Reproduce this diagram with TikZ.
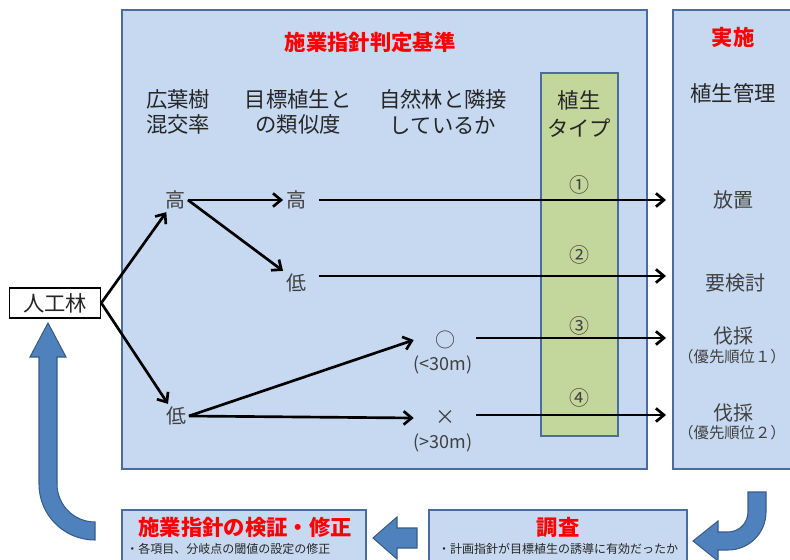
\documentclass[tikz,border=0pt]{standalone}
\usepackage{fontspec}
\setmainfont{Noto Sans CJK JP}
\usetikzlibrary{arrows.meta}
\definecolor{boxfill}{HTML}{C6D9F1}
\definecolor{boxline}{HTML}{4A6D9E}
\definecolor{greenfill}{HTML}{C3D69B}
\definecolor{arrowfill}{HTML}{4F81BD}
\definecolor{arrowline}{HTML}{385D8A}
\definecolor{txt}{HTML}{404040}
\definecolor{titlered}{HTML}{FF0000}
\begin{document}
\begin{tikzpicture}[x=0.75pt,y=-0.75pt,
  panel/.style={draw=boxline,fill=boxfill,line width=1.2pt},
  greenpanel/.style={draw=boxline,fill=greenfill,line width=1.2pt},
  blockarrow/.style={fill=arrowfill,draw=arrowline,line width=0.8pt},
  redtitle/.style={font=\fontsize{16}{19}\selectfont\bfseries,text=titlered,inner sep=0pt},
  header/.style={font=\fontsize{16}{19}\selectfont,text=black!85,align=center,inner sep=0pt},
  val/.style={font=\fontsize{15}{18}\selectfont,text=txt,inner sep=2pt},
  num/.style={font=\fontsize{15}{18}\selectfont,text=txt,inner sep=0pt},
  note/.style={font=\fontsize{13.5}{16}\selectfont,text=txt,inner sep=0pt},
  prio/.style={font=\fontsize{11.5}{14}\selectfont,text=txt,inner sep=0pt},
  small/.style={font=\fontsize{9}{11}\selectfont,text=black!85,inner sep=0pt},
  conn/.style={line width=2pt,-{Straight Barb[length=6pt,width=10pt]}}]
\useasboundingbox (0,0) rectangle (790,560);
\fill[white] (0,0) rectangle (790,560);

% panels
\draw[panel] (122,10) rectangle (647,469);
\draw[panel] (673,10) rectangle (800,469);
\draw[greenpanel] (541,73) rectangle (618,436);
\draw[panel] (122,510) rectangle (366,575);
\draw[panel] (429,510) rectangle (687,575);

% titles
\node[redtitle] (t1) at (370,42) {施業指針判定基準};
\node[redtitle] (t2) at (733,37) {実施};

% headers
\node[header] (hA) at (178,112) {広葉樹\\混交率};
\node[header] (hB) at (298,112) {目標植生と\\の類似度};
\node[header] (hC) at (443,112) {自然林と隣接\\しているか};
\node[header,font=\fontsize{16}{21}\selectfont] (hD) at (579,114) {植生\\タイプ};
\node[header] (hE) at (733,93) {植生管理};

% circled numbers
\node[num] (n1) at (579,185) {①};
\node[num] (n2) at (579,255) {②};
\node[num] (n3) at (579,326) {③};
\node[num] (n4) at (579,398) {④};

% start node
\node[draw=black,fill=white,line width=1.2pt,minimum width=91*0.75pt,minimum height=30*0.75pt,
      font=\fontsize{16}{19}\selectfont,text=black!85,inner sep=0pt] (jinko) at (55,303) {人工林};

% value nodes
\node[val] (h1) at (175,200) {高};
\node[val] (l1) at (176,416) {低};
\node[val] (h2) at (296,200) {高};
\node[val] (l2) at (296,283) {低};
\node[val,minimum width=62*0.75pt] (circ) at (445,340) {○};
\node[note] (circn) at (443,365) {(<30m)};
\node[val,minimum width=62*0.75pt] (cross) at (445,418) {×};
\node[note] (crossn) at (443,443) {(>30m)};

% management nodes
\node[val] (m1) at (733,200) {放置};
\node[val] (m2) at (735,283) {要検討};
\node[val] (m3) at (733,336) {伐採};
\node[prio] (m3n) at (732,357) {（優先順位１）};
\node[val] (m4) at (733,413) {伐採};
\node[prio] (m4n) at (732,433) {（優先順位２）};

\coordinate (tipx) at (666,0);

% connectors
\draw[conn] (jinko.east) -- (h1);
\draw[conn] (jinko.east) -- (l1);
\draw[conn] (h1.east) -- (h2.west);
\draw[conn] (h1.east) -- (l2.north west);
\draw[conn] (l1.east) -- (circ.west);
\draw[conn] (l1.east) -- (cross.west);
\draw[conn,shorten <=10*0.75pt] (h2.east) -- (h2.east -| tipx);
\draw[conn,shorten <=10*0.75pt] (l2.east) ++(0,-7) coordinate (l2s) -- (l2s -| tipx);
\draw[conn] (circ.east) ++(0,-2) coordinate (cs) -- (cs -| tipx);
\draw[conn] (cross.east) ++(0,-3) coordinate (xs) -- (xs -| tipx);

% bottom boxes text
\node[redtitle] (b1) at (245,527) {施業指針の検証・修正};
\node[small,anchor=west] (b1s) at (126,549) {・各項目、分岐点の閾値の設定の修正};
\node[redtitle] (b2) at (558,527) {調査};
\node[small] (b2s) at (558,549) {・計画指針が目標植生の誘導に有効だったか};

% block arrows
\draw[blockarrow] (48,323) -- (66,357) -- (57,357) -- (57,484)
  .. controls (57,505) and (74,522) .. (95,522) -- (95,540)
  .. controls (64,540) and (39,515) .. (39,484) -- (39,357) -- (30,357) -- cycle;
\draw[blockarrow] (748,492) -- (766,492) -- (766,512)
  .. controls (766,533) and (749,550) .. (728,550) -- (718,550) -- (718,561)
  -- (693,541) -- (718,521) -- (718,532) -- (728,532)
  .. controls (739,532) and (748,523) .. (748,512) -- cycle;
\draw[blockarrow] (373,538) -- (397,517) -- (397,528) -- (417,528) -- (417,548)
  -- (397,548) -- (397,559) -- cycle;
\end{tikzpicture}
\end{document}
